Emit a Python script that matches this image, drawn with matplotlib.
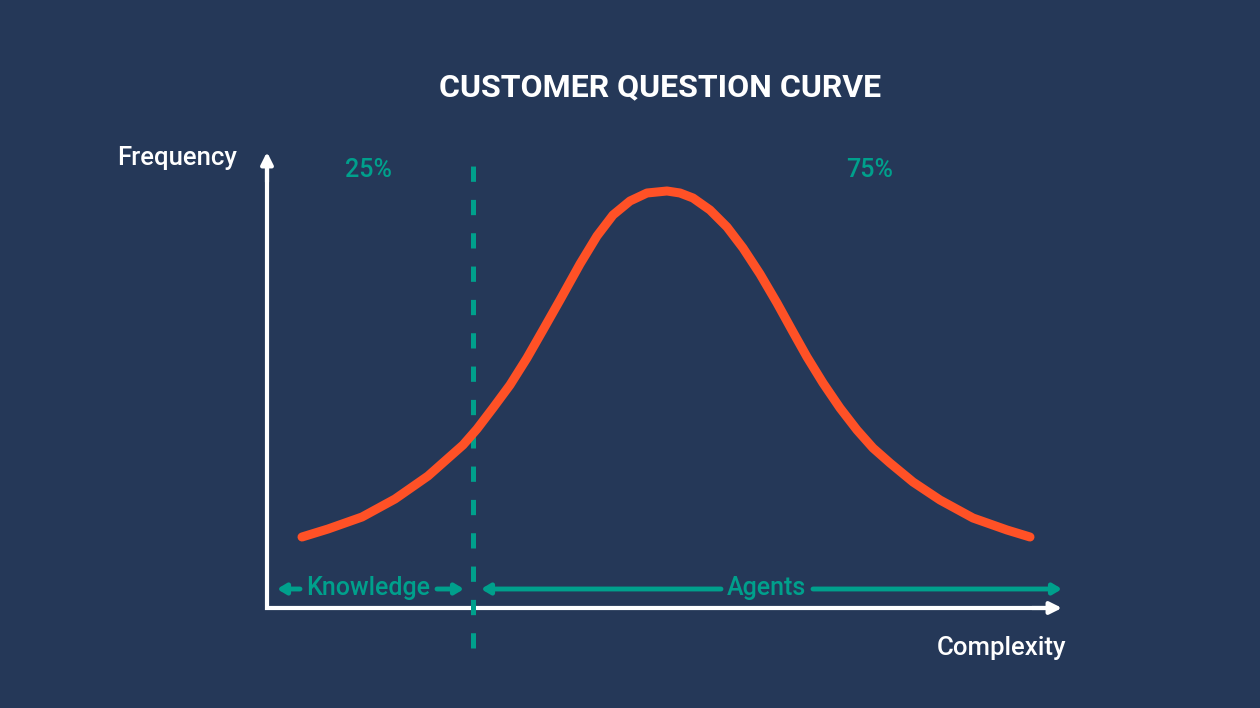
import matplotlib.pyplot as plt

plt.rcParams['font.family'] = ['Roboto', 'DejaVu Sans']
plt.rcParams['lines.scale_dashes'] = False

# curve: complexity vs frequency (arbitrary units, origin at axis corner)
complexity = [35, 61, 95, 128, 161, 196, 210, 226, 243, 260, 276, 293, 313,
              330, 346, 363, 380, 400, 413, 426, 443, 460, 476, 493, 510,
              526, 540, 556, 573, 590, 606, 623, 646, 673, 706, 740, 763]
frequency = [71, 79, 91, 109, 132, 163, 179, 200, 223, 250, 278, 308, 344,
             372, 393, 407, 415, 417, 415, 410, 398, 381, 360, 334, 305,
             276, 251, 225, 200, 178, 160, 145, 126, 108, 90, 78, 71]

split_x = 206          # knowledge / agents split
x_axis_end = 795
y_axis_end = 456
shares = ['25%', '75%']
segments = ['Knowledge', 'Agents']

bg = '#253858'
teal = '#00A08C'
orange = '#FF5126'

fig = plt.figure(figsize=(12.6, 7.08), dpi=100, facecolor=bg)
ax = fig.add_axes([0, 0, 1, 1])
ax.set_facecolor(bg)
ax.set_xlim(-267, 993)
ax.set_ylim(-100, 608)
ax.axis('off')

# axes: L shape plus arrow heads
ax.plot([0, 0, x_axis_end - 8], [y_axis_end - 8, 0, 0], color='white', lw=3,
        solid_joinstyle='miter', solid_capstyle='butt')
head_white = dict(arrowstyle='-|>,head_length=0.7,head_width=0.35', color='white',
                  lw=3, shrinkA=0, shrinkB=0)
ax.annotate('', xy=(0, y_axis_end), xytext=(0, y_axis_end - 30), arrowprops=head_white)
ax.annotate('', xy=(x_axis_end, 0), xytext=(x_axis_end - 30, 0), arrowprops=head_white)

# the curve
ax.plot(complexity, frequency, color=orange, lw=6.5, solid_capstyle='round',
        solid_joinstyle='round', zorder=3)

# dashed split
ax.plot([split_x, split_x], [-40, 445], color=teal, lw=3.6,
        linestyle=(0, (11, 13)), zorder=2)

# share labels
ax.text(102, 438, shares[0], color=teal, fontsize=18, fontweight='medium',
        ha='center', va='center')
ax.text(603, 438, shares[1], color=teal, fontsize=18, fontweight='medium',
        ha='center', va='center')

# segment arrows
arrow_teal = dict(arrowstyle='-|>,head_length=0.5,head_width=0.3', color=teal,
                  lw=3.5, shrinkA=0, shrinkB=0)
seg_y = 19
ax.text(101, seg_y + 1, segments[0], color=teal, fontsize=18, fontweight='medium',
        ha='center', va='center')
ax.annotate('', xy=(10, seg_y), xytext=(33, seg_y), arrowprops=arrow_teal)
ax.annotate('', xy=(197, seg_y), xytext=(170, seg_y), arrowprops=arrow_teal)
ax.text(499, seg_y + 1, segments[1], color=teal, fontsize=18, fontweight='medium',
        ha='center', va='center')
ax.annotate('', xy=(214, seg_y), xytext=(454, seg_y), arrowprops=arrow_teal)
ax.annotate('', xy=(795, seg_y), xytext=(546, seg_y), arrowprops=arrow_teal)

# axis titles
ax.text(-30, 450, 'Frequency', color='white', fontsize=18.5, fontweight='medium',
        ha='right', va='center')
ax.text(799, -40, 'Complexity', color='white', fontsize=18.5, fontweight='medium',
        ha='right', va='center')

fig.text(0.524, 1 - 87 / 708, 'CUSTOMER QUESTION CURVE', color='white', fontsize=23,
         fontweight='bold', ha='center', va='center')

fig.savefig('out.png', dpi=100, facecolor=bg)
